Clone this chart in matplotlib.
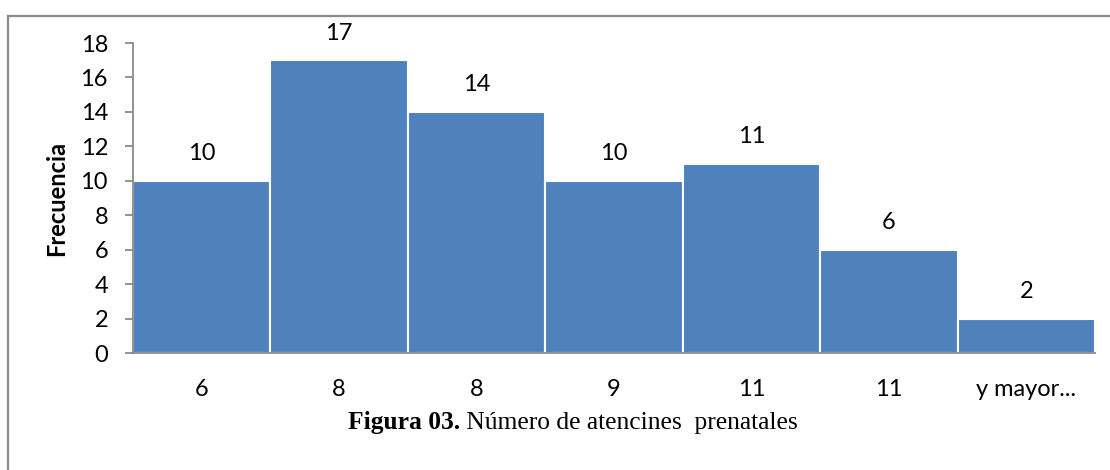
import matplotlib
matplotlib.use("Agg")
import matplotlib.pyplot as plt
from matplotlib.lines import Line2D

# Frequency of prenatal visits per class
categories = ["6", "8", "8", "9", "11", "11", "y mayor..."]
frequencies = [10, 17, 14, 10, 11, 6, 2]
y_ticks = [0, 2, 4, 6, 8, 10, 12, 14, 16, 18]

W, H = 1110, 470
fig = plt.figure(figsize=(W / 100, H / 100), dpi=100)
fig.patch.set_facecolor("white")

sans = ["Lato", "DejaVu Sans"]
serif = ["Liberation Serif", "DejaVu Serif"]
fs = 17

# outer frame (top and left edges)
frame_col = "#8a8a8a"
fx, fy = 7.5 / W, 1 - 15.5 / H
fig.add_artist(Line2D([fx, fx], [0, fy], transform=fig.transFigure, color=frame_col, lw=1.6))
fig.add_artist(Line2D([fx, 1], [fy, fy], transform=fig.transFigure, color=frame_col, lw=1.6))

ax = fig.add_axes([133 / W, 1 - 353 / H, (1095 - 133) / W, (353 - 43) / H])
x = range(len(categories))
bars = ax.bar(x, frequencies, width=1.0, color="#4F81BD", edgecolor="white", linewidth=1.5)

ax.set_xlim(-0.5, len(categories) - 0.5)
ax.set_ylim(0, 18)
ax.set_yticks(y_ticks)
ax.set_yticklabels([str(t) for t in y_ticks], fontsize=fs, family=sans)
ax.set_xticks(list(x))
ax.set_xticklabels(categories, fontsize=fs, family=sans)

for s in ["top", "right"]:
    ax.spines[s].set_visible(False)
for s in ["left", "bottom"]:
    ax.spines[s].set_color("#8a8a8a")
    ax.spines[s].set_linewidth(1.3)
ax.tick_params(axis="y", direction="out", length=6, width=1.3, color="#8a8a8a", pad=12)
ax.tick_params(axis="x", length=0, pad=19)

for xi, v in zip(x, frequencies):
    ax.annotate(str(v), (xi, v), xytext=(0, 19.5), textcoords="offset points",
                ha="center", va="center", fontsize=fs, family=sans)

ax.set_ylabel("Frecuencia", fontsize=17, fontweight="bold", family=sans, labelpad=9)

# caption with bold prefix
fig.canvas.draw()
renderer = fig.canvas.get_renderer()
cy = 1 - 423 / H
t1 = fig.text(0, cy, "Figura 03.", fontsize=18.4, fontweight="bold", family=serif, va="center")
t2 = fig.text(0, cy, " Número de atencines  prenatales", fontsize=18.4, family=serif, va="center")
w1 = t1.get_window_extent(renderer).width
w2 = t2.get_window_extent(renderer).width
x0 = 573 - (w1 + w2) / 2
t1.set_x(x0 / W)
t2.set_x((x0 + w1) / W)

fig.savefig("out.png", dpi=100, facecolor="white")
